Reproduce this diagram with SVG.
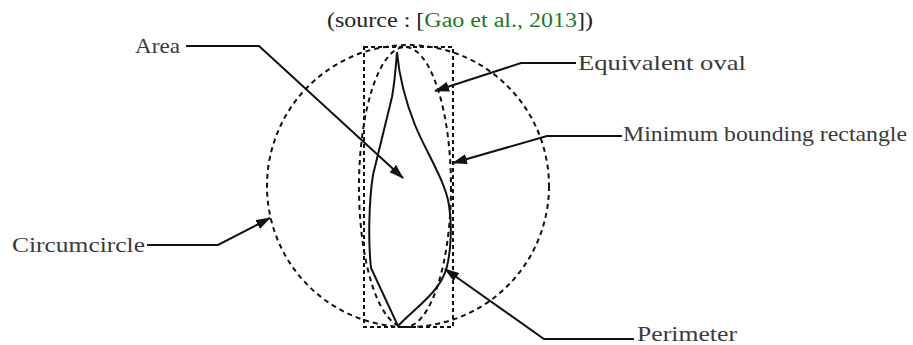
<svg xmlns="http://www.w3.org/2000/svg" width="913" height="345" viewBox="0 0 913 345">
<style>
.lbl{font-family:"Liberation Serif","DejaVu Serif",serif;font-size:22px;fill:#3a3a3a}
.ttl{font-family:"Liberation Serif","DejaVu Serif",serif;font-size:20px;fill:#222}
.grn{fill:#1e7a1e}
.dash{fill:none;stroke:#111;stroke-width:2;stroke-dasharray:5 4}
.dash2{fill:none;stroke:#111;stroke-width:2;stroke-dasharray:4 3}
.leaf{fill:none;stroke:#111;stroke-width:2}
.conn{fill:none;stroke:#111;stroke-width:2}
</style>
<defs>
<marker id="ah" markerWidth="15" markerHeight="10" refX="14" refY="5" orient="auto" markerUnits="userSpaceOnUse">
<path d="M0,0 L15,5 L0,10 Z" fill="#111"/>
</marker>
</defs>
<rect width="913" height="345" fill="#fff"/>
<text class="ttl" x="327" y="27" textLength="266" lengthAdjust="spacingAndGlyphs">(source : [<tspan class="grn">Gao et al., 2013</tspan>])</text>
<g id="circumcircle"><circle class="dash" cx="408" cy="186" r="141"/></g>
<g id="rectangle"><rect class="dash2" x="364" y="47" width="89" height="280"/></g>
<g id="oval"><ellipse class="dash" cx="405" cy="187" rx="46" ry="140"/></g>
<g id="leaf"><path class="leaf" d="M397,52 C399,75 405,100 415,125 C425,150 445,180 449,205 C453,230 450,265 443,277 C435,295 410,313 398,326 L371,268 C368,240 369,200 373,175 L392,97 C395,80 396,65 397,52 Z"/></g>
<g id="label-area"><text class="lbl" x="135" y="53" textLength="45" lengthAdjust="spacingAndGlyphs">Area</text></g>
<g id="label-oval"><text class="lbl" x="578" y="70" textLength="168" lengthAdjust="spacingAndGlyphs">Equivalent oval</text></g>
<g id="label-rect"><text class="lbl" x="623" y="141" textLength="284" lengthAdjust="spacingAndGlyphs">Minimum bounding rectangle</text></g>
<g id="label-circ"><text class="lbl" x="12" y="252" textLength="133" lengthAdjust="spacingAndGlyphs">Circumcircle</text></g>
<g id="label-perim"><text class="lbl" x="637" y="341" textLength="100" lengthAdjust="spacingAndGlyphs">Perimeter</text></g>
<g id="connectors">
<polyline class="conn" points="186,46 259,46 403,178" marker-end="url(#ah)"/>
<polyline class="conn" points="576,63 521,63 435,91" marker-end="url(#ah)"/>
<polyline class="conn" points="622,136 547,136 453,163" marker-end="url(#ah)"/>
<polyline class="conn" points="147,245 218,245 270,218" marker-end="url(#ah)"/>
<polyline class="conn" points="634,339 544,339 445,269" marker-end="url(#ah)"/>
</g>
</svg>
